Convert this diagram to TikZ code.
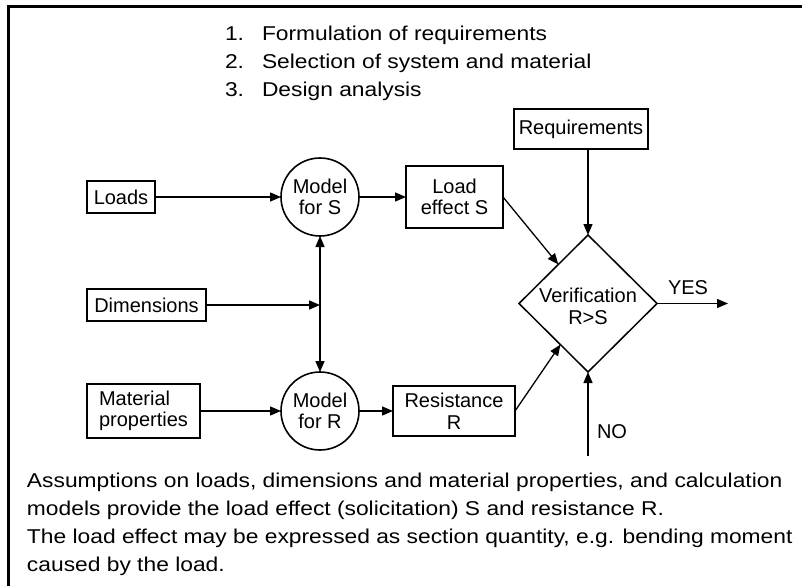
\documentclass[tikz,border=0pt]{standalone}
\usepackage{fontspec}
\setmainfont{Liberation Sans}
\newfontfamily\widesans{Liberation Sans}[FakeStretch=1.14]
\usetikzlibrary{arrows.meta,shapes.geometric,calc}
\begin{document}
\begin{tikzpicture}[x=1pt,y=-1pt,
  every node/.style={inner sep=0pt,outer sep=0pt},
  boxlbl/.style={font=\fontsize{20}{21.5}\selectfont,align=center},
  box/.style={draw,line width=1.8pt,boxlbl},
  model/.style={draw,circle,line width=1.6pt,minimum size=78pt,boxlbl},
  decision/.style={draw,diamond,line width=1.5pt,minimum width=138pt,minimum height=137pt},
  flow/.style={line width=1.3pt,-{Triangle[length=11pt,width=9pt]}},
  para/.style={font=\widesans\fontsize{20}{28}\selectfont,anchor=base west,align=left}]
\useasboundingbox (0,0) rectangle (802,586);
\fill[white] (0,0) rectangle (802,586);
% frame
\draw[line width=3pt] (802,6.5) -| (8,586);

% numbered steps
\node[para] (n1) at (225,41) {1.};
\node[para] (t1) at (262,41) {Formulation of requirements};
\node[para] (n2) at (225,68.5) {2.};
\node[para] (t2) at (262,68.5) {Selection of system and material};
\node[para] (n3) at (225,96) {3.};
\node[para] (t3) at (262,96) {Design analysis};

% inputs
\node[box,minimum width=68pt,minimum height=32pt] (loads) at (121,197) {Loads};
\node[box,minimum width=119pt,minimum height=32pt] (dim) at (146.5,305) {Dimensions};
\node[box,minimum width=113pt,minimum height=54pt,align=left] (mat) at (143.5,411) {Material\\properties};

% models
\node[model] (ms) at (320,197) {Model\\for S};
\node[model] (mr) at (320,411) {Model\\for R};

% results
\node[box,minimum width=97pt,minimum height=62pt] (les) at (454.5,197) {Load\\effect S};
\node[box,minimum width=122pt,minimum height=50pt] (res) at (454,411) {Resistance\\R};
\node[box,minimum width=134pt,minimum height=40pt] (req) at (581,129) {Requirements};

% verification
\node[decision,label={[boxlbl,yshift=-3pt]center:Verification\\R>S}] (ver) at (588,303.5) {};
\node[boxlbl] (yes) at (688,288) {YES};
\node[boxlbl] (no) at (612,432) {NO};

\coordinate (j) at (320,305);
\coordinate (yesout) at (728,303.5);
\coordinate (noin) at (588,456);

% connectors
\draw[flow] (loads) -- (ms);
\draw[flow] (mat) -- (mr);
\draw[flow] (dim) -- (j);
\draw[flow] (j) -- (ms);
\draw[flow] (j) -- (mr);
\draw[flow] (ms) -- (les);
\draw[flow] (mr) -- (res);
\draw[flow] (req.south -| ver.north) -- (ver.north);
\draw[flow] (les.east) -- ($(ver.west)!0.57!(ver.north)$);
\draw[flow] (res.east) -- ($(ver.west)!0.6!(ver.south)$);
\draw[flow] (ver.east) -- (yesout);
\draw[flow] (noin) -- (ver.south);

% explanation (anchored at the baseline of its last line)
\node[para] (expl) at (27,571) {Assumptions on loads, dimensions and material properties, and calculation\\
models provide the load effect (solicitation) S and resistance R.\\
The load effect may be expressed as section quantity, e.g. bending moment\\
caused by the load.};
\end{tikzpicture}
\end{document}
